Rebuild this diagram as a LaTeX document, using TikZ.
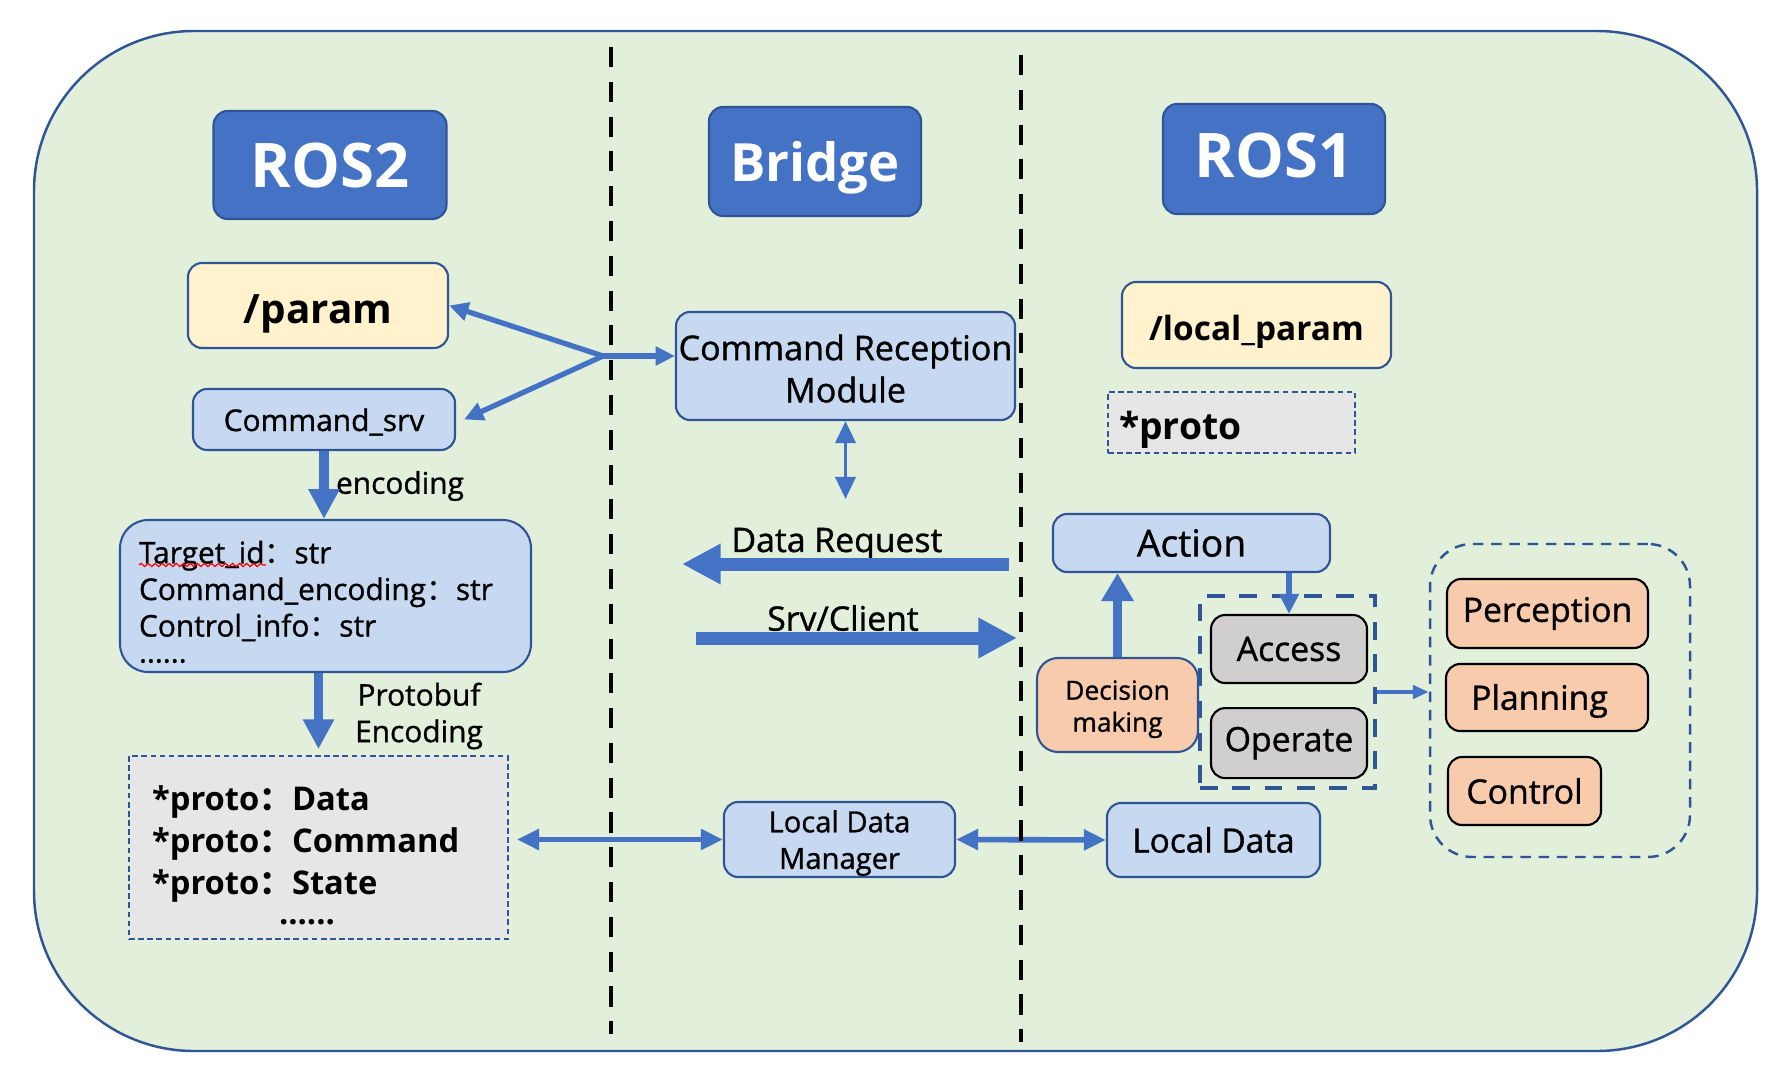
\documentclass[tikz,border=0pt]{standalone}
\usepackage{fontspec}
\setmainfont{Open Sans}
\newfontfamily\medfont{Open Sans}[FakeBold=1]
\newfontfamily\cjk{Noto Sans CJK SC}
\usetikzlibrary{
    arrows.meta,
    calc,
    positioning,
    decorations.pathmorphing
}
\definecolor{panelgreen}{RGB}{226,239,218}
\definecolor{edgeblue}{RGB}{47,85,151}
\definecolor{headblue}{RGB}{68,114,196}
\definecolor{flowblue}{RGB}{68,114,196}
\definecolor{paramyellow}{RGB}{255,242,204}
\definecolor{modblue}{RGB}{199,217,240}
\definecolor{protogray}{RGB}{231,230,230}
\definecolor{opgray}{RGB}{208,206,206}
\definecolor{taskorange}{RGB}{248,203,173}
\newcommand{\msz}[2]{\medfont\fontsize{#1}{#2}\selectfont}
\newcommand{\bsz}[2]{\bfseries\fontsize{#1}{#2}\selectfont}
\newcommand{\dropby}[2]{\raisebox{-#1}[\height][\depth]{#2}}
\newcommand{\fcolon}{{\cjk ：}}
\tikzset{
    panel/.style={
        draw=edgeblue,
        line width=0.7pt,
        fill=panelgreen,
        rounded corners=1.6cm
    },
    divider/.style={
        draw=black,
        line width=1.4pt,
        dash pattern=on 5.7pt off 4.2pt
    },
    header/.style={
        rectangle,
        draw=edgeblue,
        fill=headblue,
        line width=0.6pt,
        rounded corners=4pt,
        inner sep=0pt,
        text=white,
        text depth=0pt,
        font=\bsz{17.5}{21}
    },
    parambox/.style={
        rectangle,
        draw=edgeblue,
        fill=paramyellow,
        line width=0.6pt,
        rounded corners=4pt,
        inner sep=0pt
    },
    modbox/.style={
        rectangle,
        draw=edgeblue,
        fill=modblue,
        line width=0.6pt,
        rounded corners=4pt,
        inner sep=0pt,
        align=center
    },
    protobox/.style={
        rectangle,
        draw=edgeblue,
        fill=protogray,
        line width=0.5pt,
        dash pattern=on 1.6pt off 1pt,
        inner ysep=0pt
    },
    taskbox/.style={
        rectangle,
        draw=black,
        fill=taskorange,
        line width=0.6pt,
        rounded corners=4pt,
        inner sep=0pt,
        font=\msz{9.6}{12}
    },
    opbox/.style={
        taskbox,
        fill=opgray,
        minimum width=1.56cm
    },
    opgroup/.style={
        rectangle,
        draw=edgeblue,
        line width=1.2pt,
        dash pattern=on 5pt off 4.2pt
    },
    moduleset/.style={
        rectangle,
        draw=edgeblue,
        line width=0.7pt,
        dash pattern=on 3pt off 2.2pt,
        rounded corners=12pt
    },
    link/.style={
        draw=flowblue,
        line width=1.5pt,
        -{Triangle[length=5.5pt, width=5.2pt]}
    },
    duallink/.style={
        draw=flowblue,
        line width=1.6pt,
        {Triangle[length=6.3pt, width=5.7pt]}-{Triangle[length=6.3pt, width=5.7pt]}
    },
    pipe/.style={
        draw=flowblue,
        line width=2.8pt,
        -{Triangle[length=8.5pt, width=8.4pt]}
    },
    bigpipe/.style={
        draw=flowblue,
        line width=3.7pt,
        -{Triangle[length=11pt, width=10.8pt]}
    },
    tag/.style={
        font=\msz{8.5}{10.4},
        text=black,
        inner sep=0pt
    },
    spellmark/.style={
        draw=red,
        line width=0.35pt,
        decorate,
        decoration={snake, amplitude=0.45pt, segment length=2pt}
    }
}

\begin{document}
\begin{tikzpicture}

\path[fill=white, use as bounding box] (0,0) rectangle (17.91,-10.83);

% --- Panel ---
\draw[panel] (0.34,-0.31) rectangle (17.57,-10.51);

% --- Headers ---
\node[header, minimum width=2.33cm, minimum height=1.08cm] (ros2) at (3.30,-1.65) {ROS2};
\node[header, font=\bsz{15}{18}, minimum width=2.12cm, minimum height=1.09cm] (bridge) at (8.15,-1.615) {Bridge};
\node[header, minimum width=2.22cm, minimum height=1.10cm] (ros1) at (12.74,-1.59) {\raisebox{2pt}{ROS1}};

% --- ROS2 side ---
\node[parambox, font=\bsz{11.5}{14}, minimum width=2.60cm, minimum height=0.85cm] (param) at (3.18,-3.055) {\dropby{2.5pt}{/param}};
\node[modbox, font=\msz{8.5}{10}, minimum width=2.62cm, minimum height=0.61cm] (cmdsrv) at (3.24,-4.195) {\dropby{0.7pt}{Command\_srv}};
\node[modbox, rounded corners=8pt, align=left, font=\msz{8.5}{10.4}, text width=3.73cm, inner xsep=0.19cm, minimum height=1.52cm] (target) at (3.255,-5.96)
    {\rule{0pt}{9.8pt}Target\_id\fcolon str\\Command\_encoding\fcolon str\\Control\_info\fcolon str\\[-3pt]......};
\node[protobox, align=left, font=\bsz{9.3}{12}, text width=3.33cm, inner xsep=0.23cm, minimum height=1.83cm] (proto) at (3.185,-8.475)
    {\rule{0pt}{11.4pt}{*}proto\fcolon Data\\{*}proto\fcolon Command\\{*}proto\fcolon State\\[-3.5pt]\hspace*{1.27cm}......};

% spell-check mark under the first field
\draw[spellmark] (1.39,-5.65) -- (2.66,-5.65);

\node[tag] (enctag) at (4.00,-4.86) {encoding};
\node[tag, align=center] (pbtag) at (4.19,-7.16) {Protobuf\\Encoding};

% --- Bridge ---
\coordinate (fork) at (6.03,-3.56);
\node[modbox, font=\msz{9.7}{12}, minimum width=3.39cm, minimum height=1.08cm] (crm) at (8.455,-3.66) {\dropby{0.7pt}{Command Reception}\\\dropby{0.7pt}{Module}};
\coordinate[below=0.78cm of crm] (crmtap);

\coordinate (reqfrom) at (10.09,-5.64);
\coordinate (reqto) at (6.82,-5.64);
\coordinate (srvfrom) at (6.96,-6.38);
\coordinate (srvto) at (10.17,-6.38);
\node[tag, font=\msz{9.6}{12}] (reqtag) at (8.37,-5.44) {Data Request};
\node[tag, font=\msz{9.6}{12}] (srvtag) at (8.43,-6.18) {Srv/Client};

\node[modbox, font=\msz{8.3}{10.4}, minimum width=2.31cm, minimum height=0.75cm] (ldm) at (8.395,-8.395) {\dropby{1pt}{Local Data}\\\dropby{1pt}{Manager}};

% --- ROS1 side ---
\node[parambox, font=\bsz{9.5}{12}, minimum width=2.69cm, minimum height=0.86cm] (localparam) at (12.565,-3.25) {\dropby{2pt}{/local\_param}};
\node[protobox, align=left, font=\bsz{10.6}{13}, text width=2.25cm, inner xsep=0.11cm, minimum height=0.61cm] (protoref) at (12.315,-4.225) {\dropby{2pt}{*proto}};
\node[modbox, font=\msz{10.6}{13}, minimum width=2.77cm, minimum height=0.58cm] (action) at (11.915,-5.43) {Action};
\node[taskbox, draw=edgeblue, rounded corners=6pt, align=center, font=\msz{7.5}{9.1}, minimum width=1.61cm, minimum height=0.94cm] (decision) at (11.175,-7.05) {\dropby{1.2pt}{Decision}\\\dropby{1.2pt}{making}};

\node[opbox, minimum height=0.68cm] (access) at (12.89,-6.49) {Access};
\node[opbox, minimum height=0.70cm, below=0.23cm of access] (operate) {Operate};
\node[opgroup, minimum width=1.75cm, minimum height=1.92cm] (opset) at (12.875,-6.92) {};

\node[modbox, font=\msz{9.5}{12}, minimum width=2.13cm, minimum height=0.74cm] (localdata) at (12.135,-8.40) {Local Data};

\node[moduleset, minimum width=2.60cm, minimum height=3.13cm] (stack) at (15.60,-7.005) {};
\node[taskbox, minimum width=2.01cm, minimum height=0.69cm] (perception) at (15.475,-6.135) {Perception};
\node[taskbox, minimum width=2.02cm, minimum height=0.67cm] (planning) at (15.47,-6.975) {\dropby{1pt}{Planning}\hspace*{0.15cm}};
\node[taskbox, minimum width=1.53cm, minimum height=0.68cm] (control) at (15.245,-7.91) {Control};

% --- Connectors ---
\draw[link] (fork) -- (param.east);
\draw[link] (fork) -- ([xshift=0.08cm]cmdsrv.east);
\draw[link] (fork) -- (fork -| crm.west);
\draw[duallink, line width=1.1pt] (crm.south) -- (crmtap);

\draw[pipe] (cmdsrv.south) -- (cmdsrv.south |- target.north);
\draw[pipe] (proto.north |- target.south) -- ([yshift=0.06cm]proto.north);

\draw[bigpipe] (reqfrom) -- (reqto);
\draw[bigpipe] (srvfrom) -- (srvto);

\draw[duallink] ($(proto.east |- ldm.west)+(0.08,0)$) -- (ldm.west);
\draw[duallink] (ldm.east) -- (localdata.west);

\draw[pipe, -{Triangle[length=8pt, width=8.8pt]}] (decision.north) -- (decision.north |- action.south);
\draw[link, -{Triangle[length=5.7pt, width=5.4pt]}] (action.south -| access.north) -- (access.north);
\draw[link, line width=1.4pt, -{Triangle[length=4.5pt, width=3.7pt]}] (opset.east) -- (opset.east -| stack.west);

% --- Dividers ---
\draw[divider] (6.11,-0.47) -- (6.11,-10.34);
\draw[divider] (10.21,-0.55) -- (10.21,-10.42);

\end{tikzpicture}
\end{document}
